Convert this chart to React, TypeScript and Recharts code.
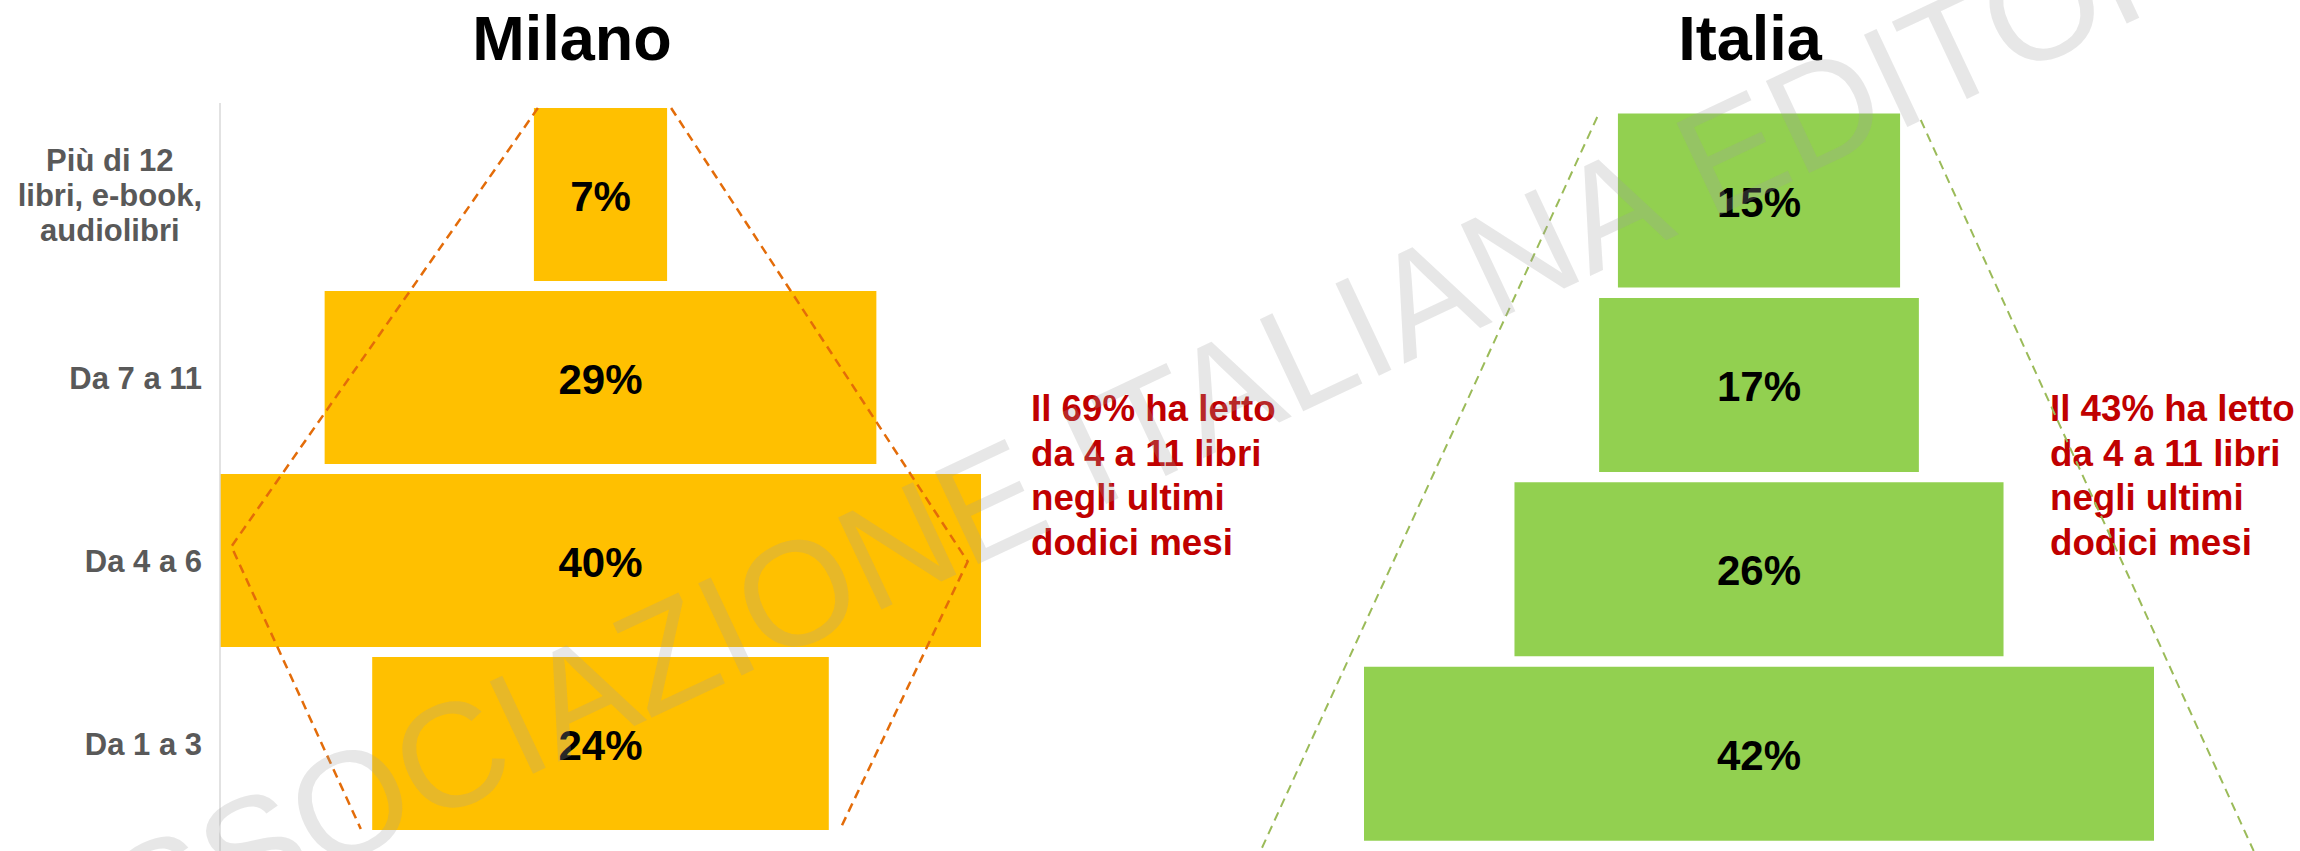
import React from 'react';
import { BarChart, Bar, XAxis, YAxis, LabelList } from 'recharts';

// ---------- data ----------
const categories = ['Più di 12\nlibri, e-book,\naudiolibri', 'Da 7 a 11', 'Da 4 a 6', 'Da 1 a 3'];
const milanoValues = [7, 29, 40, 24];
const italiaValues = [15, 17, 26, 42];
const panelTitles = ['Milano', 'Italia'];
const milanoNote = ['Il 69% ha letto', 'da 4 a 11 libri', 'negli ultimi', 'dodici mesi'];
const italiaNote = ['Il 43% ha letto', 'da 4 a 11 libri', 'negli ultimi', 'dodici mesi'];
const watermarkText = 'ASSOCIAZIONE ITALIANA EDITORI';

const FONT = "'Liberation Sans', Arial, sans-serif";
const W = 2300;
const H = 851;

const buildRows = (values: number[]) => {
  const max = Math.max(...values);
  return categories.map((cat, i) => ({ cat, value: values[i], pad: (max - values[i]) / 2 }));
};
const milanoRows = buildRows(milanoValues);
const italiaRows = buildRows(italiaValues);

// ---------- layout geometry ----------
const MIL = { left: 0, width: 1000, top: 103, bottom: 0, padBottom: 16, axisW: 220, right: 19, barSize: 173 };
const ITA = { left: 1300, width: 1000, top: 108.5, bottom: 5, ml: 64, right: 146, barSize: 174 };

const milPlotLeft = MIL.left + MIL.axisW;
const milPlotW = MIL.width - MIL.axisW - MIL.right;
const milMax = Math.max(...milanoValues);
const milPpu = milPlotW / milMax;
const milCenter = milPlotLeft + milPlotW / 2;
const milBand = (H - MIL.top - MIL.bottom - MIL.padBottom) / categories.length;
const milBarTop = (i: number) => MIL.top + i * milBand + (milBand - MIL.barSize) / 2;

const itaPlotLeft = ITA.left + ITA.ml;
const itaPlotW = ITA.width - ITA.ml - ITA.right;
const itaMax = Math.max(...italiaValues);
const itaPpu = itaPlotW / itaMax;
const itaCenter = itaPlotLeft + itaPlotW / 2;

let measureCtx: CanvasRenderingContext2D | null = null;
const measure = (txt: string, font: string) => {
  try {
    if (!measureCtx) measureCtx = document.createElement('canvas').getContext('2d');
    if (measureCtx) {
      measureCtx.font = font;
      return measureCtx.measureText(txt).width;
    }
  } catch (e) {}
  return txt.length * 17;
};

const CategoryTick = (props: any) => {
  const { x, y, payload } = props;
  const lines = String(payload.value).split('\n');
  const fs = 31;
  const lh = 35;
  const common = { fontFamily: FONT, fontWeight: 700, fontSize: fs, fill: '#595959' } as any;
  if (lines.length === 1) {
    return (
      <text x={x} y={y + 11} textAnchor="end" {...common}>
        {lines[0]}
      </text>
    );
  }
  const maxW = Math.max(...lines.map((l) => measure(l, `bold ${fs}px 'Liberation Sans', Arial`)));
  const cx = x - maxW / 2;
  const start = y + 11 - ((lines.length - 1) / 2) * lh;
  return (
    <text textAnchor="middle" {...common}>
      {lines.map((l, i) => (
        <tspan key={i} x={cx} y={start + i * lh}>
          {l}
        </tspan>
      ))}
    </text>
  );
};

const ValueLabel = (p: any) => {
  const x = Number(p.x) + Number(p.width) / 2;
  const y = Number(p.y) + Number(p.height) / 2 + 16;
  return (
    <text x={x} y={y} textAnchor="middle" fontFamily={FONT} fontWeight={700} fontSize={42} fill="#000">
      {`${p.value}%`}
    </text>
  );
};

const Panel = ({ rows, max, color, g, showAxis }: any) => (
  <div style={{ position: 'absolute', left: g.left, top: 0 }}>
    <BarChart
      width={g.width}
      height={H}
      data={rows}
      layout="vertical"
      margin={{ top: g.top, right: g.right, bottom: g.bottom, left: showAxis ? 0 : g.ml }}
      barCategoryGap={0}
    >
      <XAxis type="number" domain={[0, max]} hide />
      {showAxis ? (
        <YAxis
          type="category"
          dataKey="cat"
          width={g.axisW}
          axisLine={{ stroke: '#d9d9d9', strokeWidth: 1.5 }}
          tickLine={false}
          tickSize={0}
          tickMargin={18}
          tick={<CategoryTick />}
          interval={0}
          padding={{ top: 0, bottom: g.padBottom }}
        />
      ) : (
        <YAxis type="category" dataKey="cat" hide />
      )}
      <Bar dataKey="pad" stackId="s" fill="transparent" barSize={g.barSize} isAnimationActive={false} />
      <Bar dataKey="value" stackId="s" fill={color} barSize={g.barSize} isAnimationActive={false}>
        <LabelList dataKey="value" content={<ValueLabel />} />
      </Bar>
    </BarChart>
  </div>
);

const Overlay = () => {
  // orange dashed outline around the Milano funnel
  const topY = milBarTop(0);
  const bottomY = milBarTop(categories.length - 1) + MIL.barSize - 1;
  const midRow = milBarTop(2) + MIL.barSize / 2;
  const mx = (u: number) => milCenter + u * milPpu;
  const orangeLeft = `${mx(-3.5) + 4},${topY} ${mx(-19.4)},${midRow - 14} ${mx(-12.6)},${bottomY}`;
  const orangeRight = `${mx(3.5) + 4},${topY} ${mx(19.3)},${midRow + 1} ${mx(12.6)},${bottomY}`;
  // green dashed trapezoid sides for Italia
  const ix = (u: number) => itaCenter + u * itaPpu;
  return (
    <svg width={W} height={H} style={{ position: 'absolute', left: 0, top: 0, pointerEvents: 'none' }}>
      <text x={572} y={60} textAnchor="middle" fontFamily={FONT} fontWeight={700} fontSize={63} fill="#000">
        {panelTitles[0]}
      </text>
      <text x={1750} y={60} textAnchor="middle" fontFamily={FONT} fontWeight={700} fontSize={63} fill="#000">
        {panelTitles[1]}
      </text>
      {milanoNote.map((l, i) => (
        <text key={'m' + i} x={1031} y={421 + i * 44.7} fontFamily={FONT} fontWeight={700} fontSize={36.7} fill="#C00000">
          {l}
        </text>
      ))}
      {italiaNote.map((l, i) => (
        <text key={'i' + i} x={2050} y={421 + i * 44.7} fontFamily={FONT} fontWeight={700} fontSize={36.7} fill="#C00000">
          {l}
        </text>
      ))}
      <polyline points={orangeLeft} fill="none" stroke="#E36C09" strokeWidth={2.5} strokeDasharray="9 6" />
      <polyline points={orangeRight} fill="none" stroke="#E36C09" strokeWidth={2.5} strokeDasharray="9 6" />
      <line x1={ix(-8.6)} y1={117} x2={ix(-26.5)} y2={H} stroke="#9BBB59" strokeWidth={2} strokeDasharray="9 6" />
      <line x1={ix(8.6)} y1={120} x2={ix(26.3)} y2={H} stroke="#9BBB59" strokeWidth={2} strokeDasharray="9 6" />
      <text
        x={52}
        y={1000}
        transform="rotate(-25.2 52 1000)"
        fontFamily={FONT}
        fontSize={148}
        fill="#a0a0a0"
        fillOpacity={0.25}
      >
        {watermarkText}
      </text>
    </svg>
  );
};

export default function App() {
  return (
    <div style={{ position: 'absolute', left: 0, top: 0, width: W, height: H, background: '#fff', overflow: 'hidden' }}>
      <Panel rows={milanoRows} max={milMax} color="#FFC000" g={MIL} showAxis />
      <Panel rows={italiaRows} max={itaMax} color="#92D050" g={ITA} showAxis={false} />
      <Overlay />
    </div>
  );
}
